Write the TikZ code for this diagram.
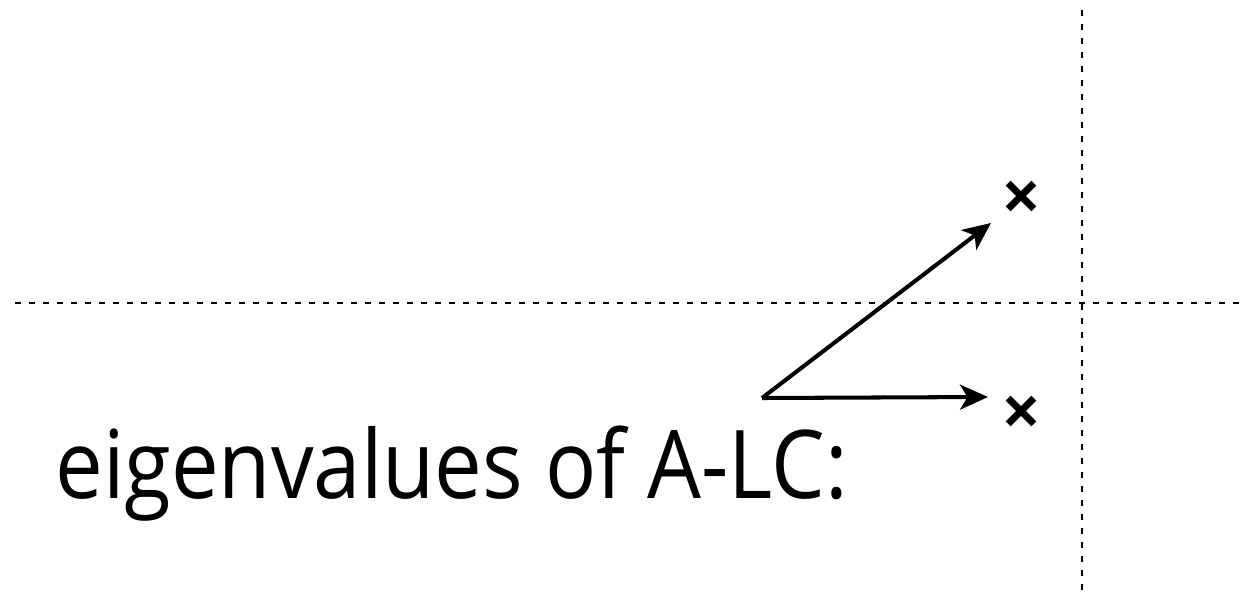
\documentclass[tikz,border=0pt]{standalone}
\usepackage{fontspec}
\usepackage{graphicx}
\setmainfont{Open Sans}
\usetikzlibrary{arrows.meta}
\tikzset{
  axisline/.style={line width=0.85pt, dash pattern=on 0.12cm off 0.16cm},
  evmark/.style={minimum size=0.5cm, inner sep=0pt},
  evstroke/.style={line width=4pt},
  evshift/.style={line width=2.3pt, -{Stealth[length=0.56cm, width=0.5cm, inset=0.15cm]}}
}
\begin{document}
\begin{tikzpicture}[x=0.02cm,y=-0.02cm]
        \useasboundingbox (0,0) rectangle (1242,592);
        %assi
        \draw[axisline](15,303)--(1242,303);
        \draw[axisline](1082,10)--(1082,592);

        %autovalori
        \node[evmark] (ev1) at (1021,196) {};
        \node[evmark] (ev2) at (1021,411) {};
        \foreach \ev in {ev1,ev2}{
          \draw[evstroke] (\ev.north west)--(\ev.south east);
          \draw[evstroke] (\ev.north east)--(\ev.south west);
        }
        \coordinate (o) at (762,398);
        \coordinate (tip1) at (991,223);
        \coordinate (tip2) at (988,397);
        \draw[evshift] (o)--(tip1);
        \draw[evshift] (o)--(tip2);

        %label
        \node[anchor=base west, inner sep=0pt, font=\fontsize{54}{60}\selectfont] (lbl) at (55,498) {\resizebox{15.85cm}{\height}{eigenvalues of A-LC:}};
    \end{tikzpicture}
\end{document}
